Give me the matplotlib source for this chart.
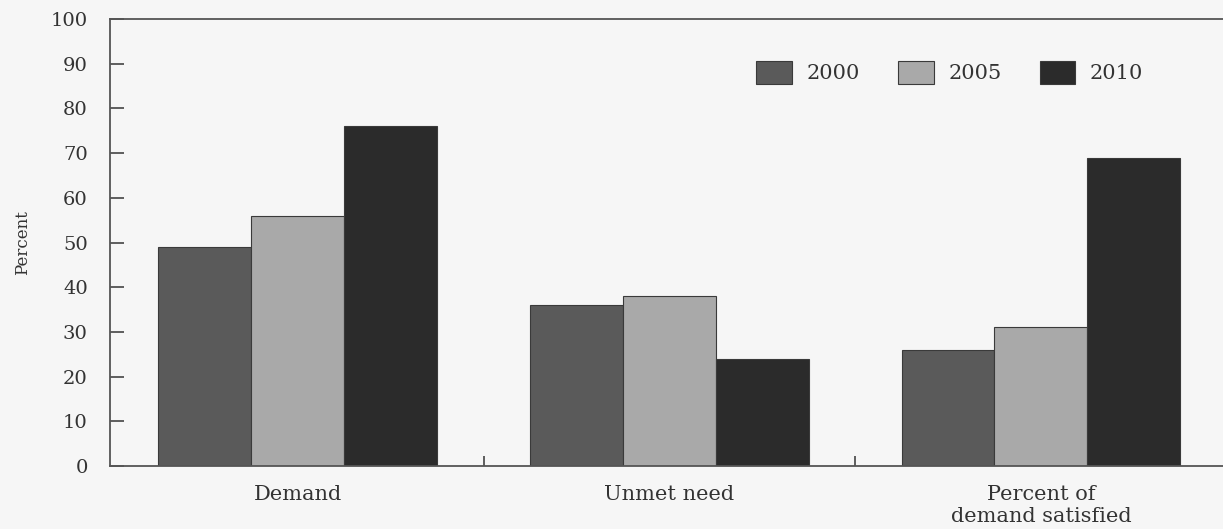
import matplotlib.pyplot as plt
import numpy as np

# datos
categorias = ["Demand", "Unmet need", "Percent of\ndemand satisfied"]
anios = ["2000", "2005", "2010"]
v2000 = [49, 36, 26]
v2005 = [56, 38, 31]
v2010 = [76, 24, 69]

colores = ["#5a5a5a", "#a9a9a9", "#2b2b2b"]

plt.rcParams['font.family'] = ['DejaVu Serif']

fig = plt.figure(figsize=(12.23, 5.29), dpi=100, facecolor="#f6f6f6")
ax = fig.add_axes([0.09, 0.119, 0.92, 0.845], facecolor="#f6f6f6")

x = np.arange(len(categorias))
ancho = 0.25
for i, (vals, lab) in enumerate(zip([v2000, v2005, v2010], anios)):
    ax.bar(x + (i - 1) * ancho, vals, ancho, color=colores[i], label=lab,
           edgecolor="#3a3a3a", linewidth=0.8)

ax.set_xlim(-0.505, 2.523)
ax.set_ylim(0, 100)
ax.set_yticks(range(0, 101, 10))
ax.set_xticks(x)
ax.set_xticklabels(categorias, fontsize=15, color="#333333", linespacing=1.15)
ax.set_xticks([0.5, 1.5], minor=True)
ax.tick_params(axis="x", which="major", length=0, pad=14)
ax.tick_params(axis="x", which="minor", direction="in", length=7.5, width=1.2, color="#444444")
ax.tick_params(axis="y", direction="in", length=10, width=1.2, color="#444444",
               labelsize=14, labelcolor="#333333", pad=16)
ax.set_ylabel("Percent", fontsize=12, color="#333333", labelpad=14)

for s in ["left", "bottom", "top"]:
    ax.spines[s].set_color("#555555")
    ax.spines[s].set_linewidth(1.3)
ax.spines["right"].set_visible(False)

ax.legend(loc="center right", bbox_to_anchor=(0.935, 0.881), ncol=3, frameon=False,
          fontsize=15, handlelength=1.7, handleheight=1.3, columnspacing=1.85,
          handletextpad=0.7, labelcolor="#333333")

plt.savefig("out.png", dpi=100, facecolor=fig.get_facecolor())
